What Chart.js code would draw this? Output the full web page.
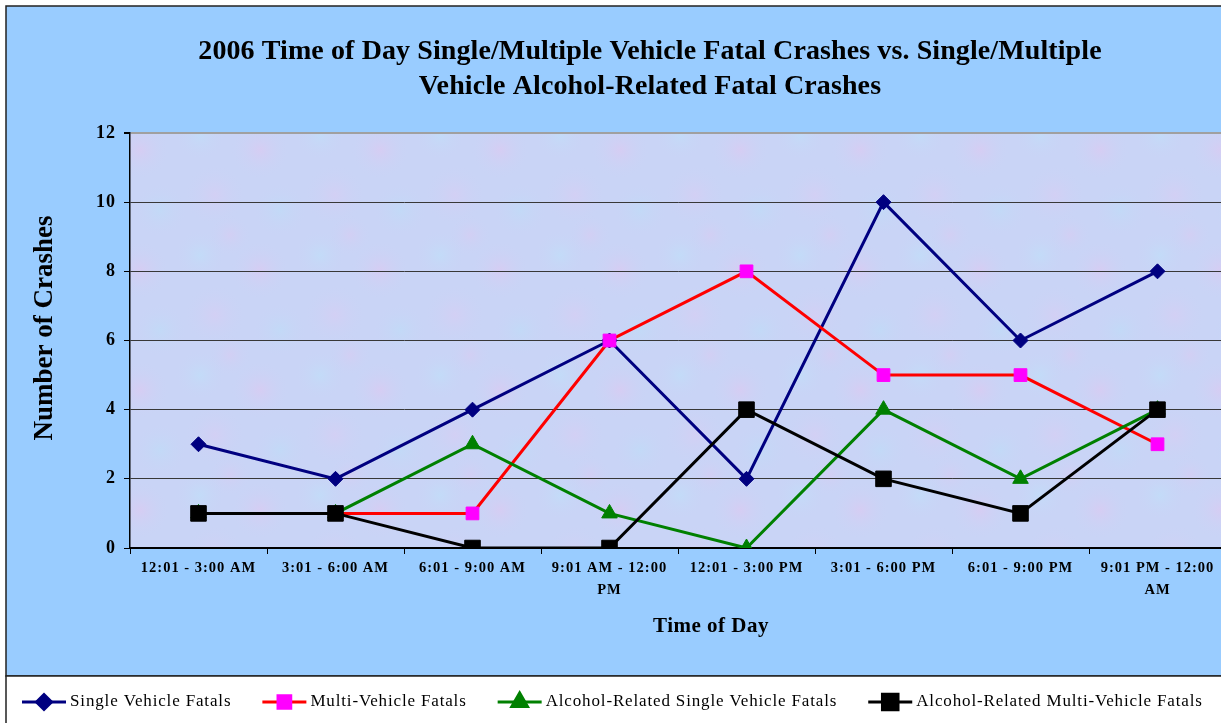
<!DOCTYPE html>
<html>
<head>
<meta charset="utf-8">
<title>2006 Time of Day Fatal Crashes</title>
<script src="https://cdn.jsdelivr.net/npm/chart.js@4.4.1/dist/chart.umd.min.js"></script>
<style>
  html, body { margin: 0; padding: 0; background: #fff; overflow: hidden; }
  #wrap { width: 1240px; height: 723px; position: relative; }
</style>
</head>
<body>
<div id="wrap"><canvas id="crashChart" width="1240" height="723"></canvas></div>
<script>
// values
const timeLabels = [
  ['12:01 - 3:00 AM'], ['3:01 - 6:00 AM'], ['6:01 - 9:00 AM'], ['9:01 AM - 12:00', 'PM'],
  ['12:01 - 3:00 PM'], ['3:01 - 6:00 PM'], ['6:01 - 9:00 PM'], ['9:01 PM - 12:00', 'AM']
];
const singleVehicle = [3, 2, 4, 6, 2, 10, 6, 8];
const multiVehicle  = [1, 1, 1, 6, 8, 5, 5, 3];
const alcoholSingle = [1, 1, 3, 1, 0, 4, 2, 4];
const alcoholMulti  = [1, 1, 0, 0, 4, 2, 1, 4];
const yTicks = [0, 2, 4, 6, 8, 10, 12];

const titleLines = [
  '2006 Time of Day Single/Multiple Vehicle Fatal Crashes vs. Single/Multiple',
  'Vehicle Alcohol-Related Fatal Crashes'
];
const yTitle = 'Number of Crashes';
const xTitle = 'Time of Day';

const SERIF = '"Liberation Serif", "Times New Roman", serif';

function drawText(ctx, s, x, y, font, spacing, align) {
  ctx.save();
  ctx.font = font;
  ctx.letterSpacing = spacing;
  ctx.textAlign = align || 'center';
  ctx.textBaseline = 'middle';
  ctx.fillStyle = '#000';
  ctx.fillText(s, x, y);
  ctx.restore();
}

// soft mottled fill for the plot area, like the Excel texture
function plotTexture(ctx) {
  const tile = document.createElement('canvas');
  tile.width = 120;
  tile.height = 120;
  const t = tile.getContext('2d');
  t.fillStyle = 'rgb(201, 212, 246)';
  t.fillRect(0, 0, 120, 120);
  const blobs = [
    [20, 30, 30, 'rgba(226, 198, 240, 0.5)'],
    [80, 15, 26, 'rgba(188, 228, 250, 0.45)'],
    [95, 75, 32, 'rgba(222, 202, 242, 0.45)'],
    [40, 90, 28, 'rgba(186, 224, 248, 0.45)'],
    [110, 115, 22, 'rgba(226, 198, 240, 0.35)']
  ];
  blobs.forEach(([bx, by, r, c]) => {
    for (const dx of [-120, 0, 120]) {
      for (const dy of [-120, 0, 120]) {
        const g = t.createRadialGradient(bx + dx, by + dy, 0, bx + dx, by + dy, r);
        g.addColorStop(0, c);
        g.addColorStop(1, 'rgba(201, 212, 246, 0)');
        t.fillStyle = g;
        t.fillRect(bx + dx - r, by + dy - r, 2 * r, 2 * r);
      }
    }
  });
  return ctx.createPattern(tile, 'repeat');
}

// backgrounds, frame, titles and the bottom legend box
const frame = {
  id: 'frame',
  beforeDraw(chart) {
    const ctx = chart.ctx, a = chart.chartArea;
    ctx.save();
    ctx.fillStyle = '#fff';
    ctx.fillRect(0, 0, chart.width, chart.height);
    ctx.fillStyle = '#99CCFF';
    ctx.fillRect(6, 6, chart.width, 670);
    ctx.strokeStyle = '#222';
    ctx.lineWidth = 1.5;
    ctx.strokeRect(6, 6, chart.width, 670);
    ctx.fillStyle = '#fff';
    ctx.fillRect(6, 676, chart.width, 60);
    ctx.strokeRect(6, 676, chart.width, 60);
    ctx.fillStyle = plotTexture(ctx);
    ctx.fillRect(a.left, a.top, a.right - a.left, a.bottom - a.top);
    ctx.restore();
    ctx.letterSpacing = '1px';
  },
  afterDraw(chart) {
    const ctx = chart.ctx;
    drawText(ctx, titleLines[0], 650, 52, 'bold 28px ' + SERIF, '0.1px');
    drawText(ctx, titleLines[1], 650, 87, 'bold 28px ' + SERIF, '0.1px');
    drawText(ctx, xTitle, 711, 627, 'bold 21px ' + SERIF, '0.5px');
    ctx.save();
    ctx.translate(45, 328);
    ctx.rotate(-Math.PI / 2);
    drawText(ctx, yTitle, 0, 0, 'bold 27px ' + SERIF, '0px');
    ctx.restore();

    // legend: line + marker, then label
    let x = 22;
    const y = 702;
    const font = '17px ' + SERIF;
    const spacing = '0.85px';
    chart.data.datasets.forEach(ds => {
      ctx.save();
      ctx.strokeStyle = ds.borderColor;
      ctx.lineWidth = 3;
      ctx.beginPath();
      ctx.moveTo(x, y);
      ctx.lineTo(x + 44, y);
      ctx.stroke();
      ctx.fillStyle = ds.pointBackgroundColor;
      ctx.strokeStyle = ds.pointBorderColor;
      Chart.helpers.drawPoint(ctx, {
        pointStyle: ds.pointStyle, radius: ds.pointRadius, rotation: 0, borderWidth: 1
      }, x + 22, y);
      ctx.restore();
      ctx.save();
      ctx.font = font;
      ctx.letterSpacing = spacing;
      const w = ctx.measureText(ds.label).width;
      ctx.restore();
      drawText(ctx, ds.label, x + 48, y, font, spacing, 'left');
      x += 48 + w + 31;
    });
  }
};

function series(label, values, line, point, style, radius, order) {
  return {
    label: label,
    data: values,
    borderColor: line,
    backgroundColor: line,
    borderWidth: 3,
    pointStyle: style,
    pointRadius: radius,
    pointHoverRadius: radius,
    pointBackgroundColor: point,
    pointBorderColor: point,
    pointBorderWidth: 1,
    tension: 0,
    order: order
  };
}

new Chart(document.getElementById('crashChart'), {
  type: 'line',
  data: {
    labels: timeLabels,
    datasets: [
      series('Single Vehicle Fatals', singleVehicle, '#000080', '#000080', 'rectRot', 7.5, 4),
      series('Multi-Vehicle Fatals', multiVehicle, '#FF0000', '#FF00FF', 'rect', 9, 3),
      series('Alcohol-Related Single Vehicle Fatals', alcoholSingle, '#008000', '#008000', 'triangle', 9, 2),
      series('Alcohol-Related Multi-Vehicle Fatals', alcoholMulti, '#000000', '#000000', 'rect', 11, 1)
    ]
  },
  options: {
    responsive: false,
    devicePixelRatio: 1,
    animation: false,
    layout: { padding: { left: 0, top: 133, right: 14, bottom: 0 } },
    plugins: {
      legend: { display: false },
      title: { display: false },
      tooltip: { enabled: false }
    },
    scales: {
      x: {
        offset: true,
        afterFit(scale) { scale.height = 723 - 548; },
        grid: {
          offset: true,
          drawOnChartArea: false,
          drawTicks: true,
          tickLength: 6,
          tickColor: '#000'
        },
        border: { color: '#000', width: 2 },
        ticks: {
          autoSkip: false,
          maxRotation: 0,
          padding: 3,
          color: '#000',
          font: { family: SERIF, size: 14.5, weight: 'bold', lineHeight: 1.55 }
        }
      },
      y: {
        min: 0,
        max: 12,
        afterFit(scale) { scale.width = 130; },
        afterBuildTicks(scale) { scale.ticks = yTicks.map(v => ({ value: v })); },
        grid: {
          color: ctx => (ctx.tick && ctx.tick.value === 12) ? '#a0a0a0' : '#383838',
          lineWidth: ctx => (ctx.tick && ctx.tick.value === 12) ? 2 : 1,
          tickLength: 6,
          tickColor: '#000'
        },
        border: { color: '#000', width: 1.5 },
        ticks: {
          padding: 8,
          color: '#000',
          font: { family: SERIF, size: 18, weight: 'bold' }
        }
      }
    }
  },
  plugins: [frame]
});
</script>
</body>
</html>
